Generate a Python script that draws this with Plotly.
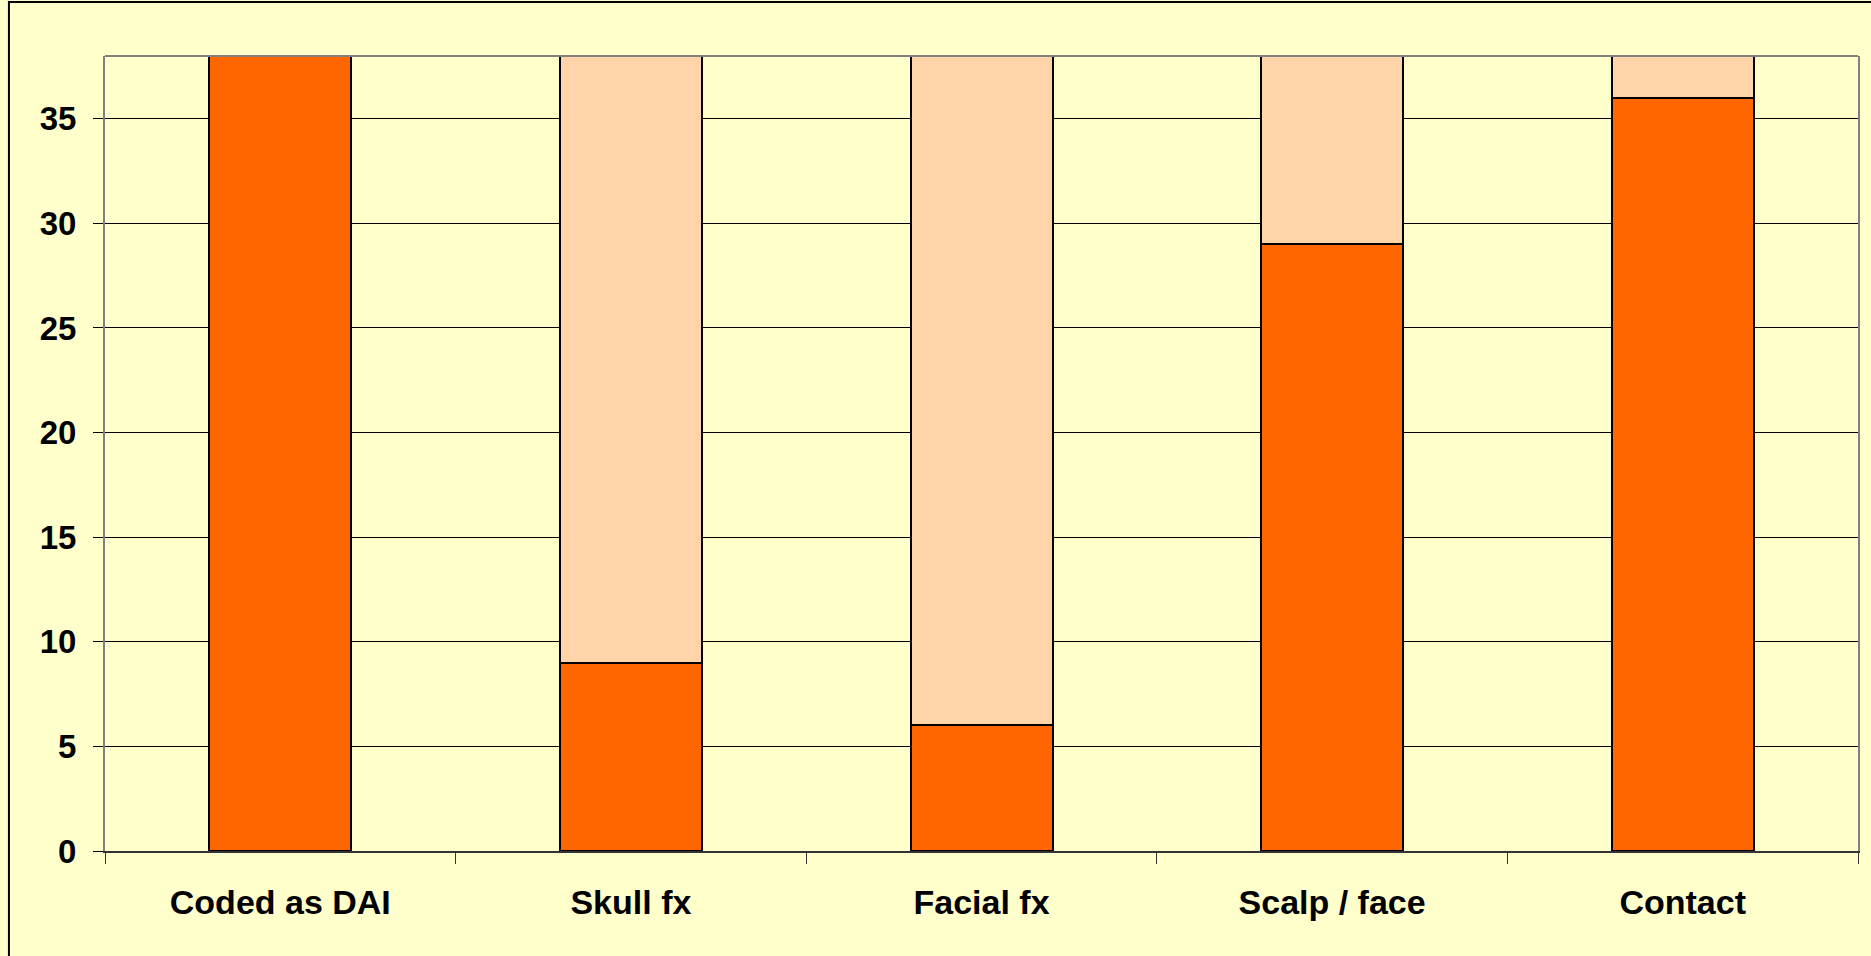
import plotly.graph_objects as go

categories = ["Coded as DAI", "Skull fx", "Facial fx", "Scalp / face", "Contact"]
dark_values = [38, 9, 6, 29, 36]
light_values = [0, 29, 32, 9, 2]
y_ticks = [0, 5, 10, 15, 20, 25, 30, 35]

fig = go.Figure()
fig.add_trace(go.Bar(x=categories, y=dark_values, name="Yes",
                     marker=dict(color="#FF6600", line=dict(color="#000000", width=2))))
fig.add_trace(go.Bar(x=categories, y=light_values, name="No",
                     marker=dict(color="#FFD4A8", line=dict(color="#000000", width=2))))

font_family = "Liberation Sans, Arial, sans-serif"
fig.update_layout(
    barmode="stack",
    bargap=0.595,
    width=1871, height=956,
    margin=dict(l=105, r=13, t=56, b=105),
    paper_bgcolor="#FFFFCC",
    plot_bgcolor="#FFFFCC",
    showlegend=False,
    font=dict(family=font_family, color="#000000"),
    xaxis=dict(
        showline=True, linecolor="#333333", linewidth=2,
        ticks="outside", tickson="boundaries", ticklen=11, tickcolor="#333333",
        tickfont=dict(family=font_family, size=34, weight="bold", color="#000000"),
        ticklabelstandoff=20,
        showgrid=False,
    ),
    yaxis=dict(
        range=[0, 38],
        tickvals=y_ticks,
        showline=True, linecolor="#808080", linewidth=2, mirror=True,
        ticks="outside", ticklen=10, tickcolor="#000000",
        tickfont=dict(family=font_family, size=33, weight="bold", color="#000000"),
        ticklabelstandoff=10,
        showgrid=True, gridcolor="#000000", gridwidth=1,
        zeroline=False,
    ),
    shapes=[
        dict(type="line", xref="paper", yref="paper", x0=0, x1=1, y0=1, y1=1,
             line=dict(color="#808080", width=2)),
        dict(type="rect", xref="paper", yref="paper", x0=-0.0548, x1=1.0097,
             y0=-0.137, y1=1.068, line=dict(color="#000000", width=2),
             fillcolor="rgba(0,0,0,0)", layer="below"),
    ],
)

fig.write_html(
    "out.html",
    config={"displayModeBar": False},
    post_script="document.body.style.margin='0';document.body.style.backgroundColor='#FFFFCC';",
)
